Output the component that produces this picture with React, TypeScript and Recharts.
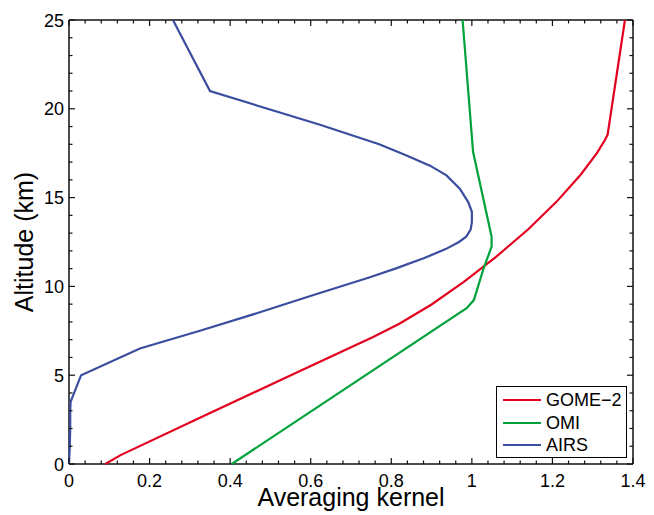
import { ScatterChart, Scatter, XAxis, YAxis, ReferenceLine } from 'recharts';

// altitude (km) and averaging kernel values for each instrument
const gomeAlt = [0, 0.5, 2.6, 5.1, 7.15, 7.9, 8.98, 10.26, 11.66, 13.22, 14.76, 16.29, 17.49, 18.23, 18.55, 25];
const gomeK = [0.09, 0.128, 0.325, 0.56, 0.755, 0.82, 0.9, 0.98, 1.06, 1.14, 1.21, 1.27, 1.31, 1.33, 1.337, 1.38];

const omiAlt = [0, 8.77, 9.23, 11, 12.24, 12.8, 17.58, 25];
const omiK = [0.404, 0.987, 1.005, 1.029, 1.049, 1.049, 1.003, 0.977];

const airsAlt = [0, 1, 2, 3, 3.5, 5, 6.5, 7.5, 8.5, 9.5, 10.5, 11, 11.6, 12.1, 12.5, 12.8, 13.2, 13.6, 14.2, 14.75, 15.5, 16.25, 16.8, 17.4, 18, 19.1, 21, 25];
const airsK = [0, 0.002, 0.003, 0.003, 0.004, 0.03, 0.176, 0.325, 0.468, 0.605, 0.745, 0.81, 0.882, 0.935, 0.968, 0.986, 0.997, 1.0, 1.0, 0.991, 0.97, 0.937, 0.896, 0.835, 0.77, 0.623, 0.35, 0.258];

const xMajor = [0, 0.2, 0.4, 0.6, 0.8, 1, 1.2, 1.4];
const xLabels = ['0', '0.2', '0.4', '0.6', '0.8', '1', '1.2', '1.4'];
const yMajor = [0, 5, 10, 15, 20, 25];
const yLabels = ['0', '5', '10', '15', '20', '25'];

const toPoints = (alt: number[], k: number[]) => alt.map((a, i) => ({ alt: a, k: k[i] }));

const series = [
  { name: 'GOME\u22122', color: '#e3001f', data: toPoints(gomeAlt, gomeK) },
  { name: 'OMI', color: '#00a23a', data: toPoints(omiAlt, omiK) },
  { name: 'AIRS', color: '#3a4d9e', data: toPoints(airsAlt, airsK) },
];

const PLOT_W = 564;
const PLOT_H = 444;
const FONT = '"Liberation Sans", Arial, Helvetica, sans-serif';
const INK = '#111';

// minor ticks: 5 steps between majors on both axes
const withMinor = (major: number[], n: number) =>
  major.flatMap((m, i) =>
    i < major.length - 1 ? Array.from({ length: n }, (_, j) => +(m + ((major[i + 1] - m) * j) / n).toFixed(4)) : [m]
  );
const xTicks = withMinor(xMajor, 5);
const yTicks = withMinor(yMajor, 5);

// inward ticks on both the bottom and the top edge
function XTick(props: any) {
  const x = Number(props.x);
  const y = Number(props.y);
  const idx = xMajor.findIndex((m) => Math.abs(m - props.payload.value) < 1e-6);
  const len = idx >= 0 ? 6 : 3.5;
  return (
    <g>
      <rect x={x - 0.6} y={y - len} width={1.2} height={len} fill={INK} />
      <rect x={x - 0.6} y={y - PLOT_H} width={1.2} height={len} fill={INK} />
      {idx >= 0 && (
        <text x={x} y={y + 23} textAnchor="middle" fontSize={18} fontFamily={FONT} fill="#000">
          {xLabels[idx]}
        </text>
      )}
    </g>
  );
}

// inward ticks on both the left and the right edge
function YTick(props: any) {
  const x = Number(props.x);
  const y = Number(props.y);
  const idx = yMajor.findIndex((m) => Math.abs(m - props.payload.value) < 1e-6);
  const len = idx >= 0 ? 6 : 3.5;
  return (
    <g>
      <rect x={x} y={y - 0.6} width={len} height={1.2} fill={INK} />
      <rect x={x + PLOT_W - len} y={y - 0.6} width={len} height={1.2} fill={INK} />
      {idx >= 0 && (
        <text x={x - 5} y={y + 6.5} textAnchor="end" fontSize={18} fontFamily={FONT} fill="#000">
          {yLabels[idx]}
        </text>
      )}
    </g>
  );
}

function Legend() {
  return (
    <div
      style={{
        position: 'absolute',
        left: 496,
        top: 386,
        width: 131,
        height: 72,
        boxSizing: 'border-box',
        border: '1px solid #000',
        background: '#fff',
        fontFamily: FONT,
        fontSize: 18,
      }}
    >
      {series.map((s, i) => (
        <div
          key={s.name}
          style={{ position: 'absolute', left: 6, top: 2 + i * 22.5, height: 22, display: 'flex', alignItems: 'center' }}
        >
          <svg width={38} height={4} style={{ display: 'block' }}>
            <line x1={0} x2={38} y1={2} y2={2} stroke={s.color} strokeWidth={2.2} />
          </svg>
          <span style={{ marginLeft: 5, lineHeight: '22px' }}>{s.name}</span>
        </div>
      ))}
    </div>
  );
}

export default function App() {
  return (
    <div style={{ position: 'absolute', left: 0, top: 0, width: 654, height: 515, background: '#fff' }}>
      <ScatterChart width={654} height={515} margin={{ top: 20, right: 21, left: 0, bottom: 0 }}>
        <XAxis
          type="number"
          dataKey="k"
          domain={[0, 1.4]}
          ticks={xTicks}
          interval={0}
          tickSize={0}
          tickMargin={0}
          tickLine={false}
          height={51}
          axisLine={{ stroke: INK, strokeWidth: 1.5 }}
          tick={<XTick />}
          label={{
            content: ({ viewBox }: any) => (
              <text
                x={viewBox.x + viewBox.width / 2}
                y={viewBox.y + 42}
                textAnchor="middle"
                fontSize={25}
                fontFamily={FONT}
                fill="#000"
              >
                Averaging kernel
              </text>
            ),
          }}
        />
        <YAxis
          type="number"
          dataKey="alt"
          domain={[0, 25]}
          ticks={yTicks}
          interval={0}
          tickSize={0}
          tickMargin={0}
          tickLine={false}
          width={69}
          axisLine={{ stroke: INK, strokeWidth: 1.5 }}
          tick={<YTick />}
          label={{
            content: ({ viewBox }: any) => {
              const cx = viewBox.x + 33;
              const cy = viewBox.y + viewBox.height / 2;
              return (
                <text
                  x={cx}
                  y={cy}
                  transform={`rotate(-90, ${cx}, ${cy})`}
                  textAnchor="middle"
                  fontSize={25}
                  fontFamily={FONT}
                  fill="#000"
                >
                  Altitude (km)
                </text>
              );
            },
          }}
        />
        <ReferenceLine y={25} stroke={INK} strokeWidth={1.5} />
        <ReferenceLine x={1.4} stroke={INK} strokeWidth={1.5} />
        {series.map((s) => (
          <Scatter
            key={s.name}
            name={s.name}
            data={s.data}
            fill={s.color}
            line={{ stroke: s.color, strokeWidth: 2.2 }}
            shape={() => <g />}
            isAnimationActive={false}
          />
        ))}
      </ScatterChart>
      <Legend />
    </div>
  );
}
